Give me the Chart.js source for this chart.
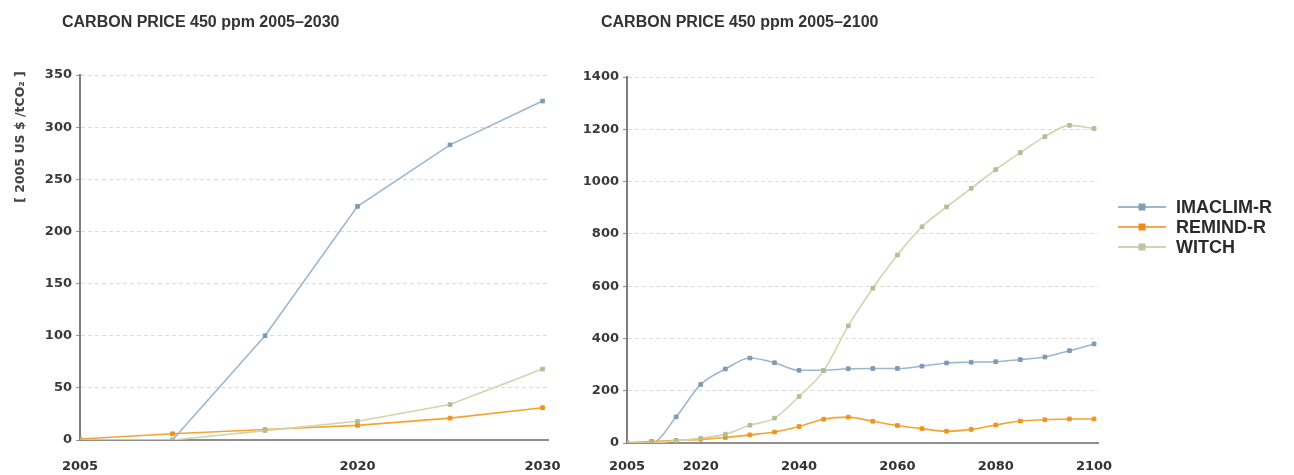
<!DOCTYPE html>
<html>
<head>
<meta charset="utf-8">
<script src="https://cdn.jsdelivr.net/npm/chart.js@4.4.1/dist/chart.umd.min.js"></script>
<style>
  html, body { margin: 0; padding: 0; background: #ffffff; width: 1294px; height: 475px; overflow: hidden; }
  #leftBox  { position: absolute; left: 0;     top: 0; width: 580px; height: 475px; }
  #rightBox { position: absolute; left: 560px; top: 0; width: 734px; height: 475px; }
  canvas { display: block; }
</style>
</head>
<body>
<div id="leftBox"><canvas id="nearTerm" width="580" height="475"></canvas></div>
<div id="rightBox"><canvas id="longTerm" width="734" height="475"></canvas></div>
<script>
// Carbon price paths, 450 ppm stabilisation, in 2005 US$ per tonne CO2
const years   = [2005, 2010, 2015, 2020, 2025, 2030, 2035, 2040, 2045, 2050,
                 2055, 2060, 2065, 2070, 2075, 2080, 2085, 2090, 2095, 2100];
const imaclim = [0, 0, 100, 224, 283, 325, 307, 278, 278, 284,
                 285, 285, 294, 306, 309, 311, 319, 329, 353, 379];
const remind  = [1, 6, 10, 14, 21, 31, 42, 63, 91, 99,
                 83, 67, 55, 45, 52, 69, 84, 89, 92, 92];
const witch   = [0, 0, 9, 18, 34, 68, 95, 178, 277, 448,
                 592, 719, 827, 903, 974, 1046, 1111, 1172, 1215, 1203];

const modelNames = ['IMACLIM-R', 'REMIND-R', 'WITCH'];

const nearTermEnd   = 2030;
const nearXTicks    = [2005, 2020, 2030];
const nearYTicks    = [0, 50, 100, 150, 200, 250, 300, 350];
const longXTicks    = [2005, 2020, 2040, 2060, 2080, 2100];
const longYTicks    = [0, 200, 400, 600, 800, 1000, 1200, 1400];

const titleNear = 'CARBON PRICE 450 ppm 2005\u20132030';
const titleLong = 'CARBON PRICE 450 ppm 2005\u20132100';
const unitLabel = '[ 2005 US $ /tCO\u2082 ]';

const palette = [
  { line: '#9db7cf', point: '#7f9ab3', legend: '#7f9fbd' },
  { line: '#f5a431', point: '#f0931f', legend: '#f28a1a' },
  { line: '#cfd6ae', point: '#b4bd98', legend: '#bcc6a3' }
];

const tickFont = { family: 'DejaVu Sans', size: 13, weight: 'bold' };

function points(values, lastYear) {
  const out = [];
  years.forEach((y, i) => { if (y <= lastYear) out.push({ x: y, y: values[i] }); });
  return out;
}

function buildDatasets(lastYear, smooth) {
  return [imaclim, remind, witch].map((vals, i) => ({
    label: modelNames[i],
    data: points(vals, lastYear),
    borderColor: palette[i].line,
    backgroundColor: palette[i].point,
    borderWidth: 1.6,
    pointStyle: 'rect',
    pointRadius: 2.6,
    pointBorderWidth: 1,
    pointBackgroundColor: palette[i].point,
    pointBorderColor: palette[i].point,
    cubicInterpolationMode: smooth ? 'monotone' : 'default',
    tension: 0,
    fill: false,
    order: 3 - i
  }));
}

// Title text and rotated unit label drawn above/left of the plot
function headerPlugin(text, x, withUnit) {
  return {
    id: 'header',
    afterDraw(chart) {
      const ctx = chart.ctx;
      ctx.save();
      ctx.fillStyle = '#333333';
      ctx.font = 'bold 16px "Liberation Sans"';
      ctx.textBaseline = 'middle';
      ctx.textAlign = 'left';
      ctx.fillText(text, x, 23);
      if (withUnit) {
        ctx.translate(21, 137);
        ctx.rotate(-Math.PI / 2);
        ctx.textAlign = 'center';
        ctx.font = 'bold 12.5px "DejaVu Sans"';
        ctx.fillStyle = '#444444';
        ctx.fillText(unitLabel, 0, 0);
      }
      ctx.restore();
    }
  };
}

// Series key beside the long-term panel
const keyPlugin = {
  id: 'seriesKey',
  afterDraw(chart) {
    const ctx = chart.ctx;
    const x0 = 1118 - 560, lineLen = 48, rowGap = 20, yTop = 207;
    ctx.save();
    chart.data.datasets.forEach((ds, i) => {
      const y = yTop + i * rowGap;
      ctx.strokeStyle = palette[i].legend;
      ctx.lineWidth = 1.6;
      ctx.beginPath();
      ctx.moveTo(x0, y);
      ctx.lineTo(x0 + lineLen, y);
      ctx.stroke();
      ctx.fillStyle = palette[i].legend;
      ctx.fillRect(x0 + lineLen / 2 - 3.5, y - 3.5, 7, 7);
      ctx.fillStyle = '#2b2b2b';
      ctx.font = 'bold 18px "Liberation Sans"';
      ctx.textBaseline = 'middle';
      ctx.textAlign = 'left';
      ctx.fillText(ds.label, x0 + lineLen + 10, y + 1);
    });
    ctx.restore();
  }
};

function makeOptions(cfg) {
  return {
    responsive: false,
    animation: false,
    devicePixelRatio: 1,
    layout: { padding: { left: 0, top: cfg.top, right: cfg.right, bottom: 0 } },
    plugins: { legend: { display: false }, tooltip: { enabled: false } },
    scales: {
      x: {
        type: 'linear',
        min: cfg.xMin,
        max: cfg.xMax,
        afterBuildTicks: s => { s.ticks = cfg.xTicks.map(v => ({ value: v })); },
        afterFit: s => { s.height = cfg.xHeight; },
        grid: { drawOnChartArea: false, drawTicks: false },
        border: { color: '#8f8f8f', width: 2 },
        ticks: { font: tickFont, color: '#333333', padding: cfg.xPad, maxRotation: 0, autoSkip: false,
                 callback: v => String(v) }
      },
      y: {
        min: 0,
        max: cfg.yTicks[cfg.yTicks.length - 1],
        afterBuildTicks: s => { s.ticks = cfg.yTicks.map(v => ({ value: v })); },
        afterFit: s => { s.width = cfg.yWidth; },
        grid: { color: '#dcdcdc', lineWidth: 1, tickLength: 4, tickColor: '#9a9a9a', tickWidth: 1.2 },
        border: { color: '#7e7e7e', width: 2, dash: [4, 3] },
        ticks: { font: tickFont, color: '#3a3a3a', padding: 4, autoSkip: false, callback: v => String(v) }
      }
    }
  };
}

new Chart(document.getElementById('nearTerm'), {
  type: 'line',
  data: { datasets: buildDatasets(nearTermEnd, false) },
  options: makeOptions({ top: 75, right: 30, xMin: 2005, xMax: 2030.3, xTicks: nearXTicks,
                         xHeight: 35, xPad: 19, yTicks: nearYTicks, yWidth: 80 }),
  plugins: [headerPlugin(titleNear, 62, true)]
});

new Chart(document.getElementById('longTerm'), {
  type: 'line',
  data: { datasets: buildDatasets(2100, true) },
  options: makeOptions({ top: 77, right: 196, xMin: 2005, xMax: 2100.8, xTicks: longXTicks,
                         xHeight: 32, xPad: 16, yTicks: longYTicks, yWidth: 67 }),
  plugins: [headerPlugin(titleLong, 601 - 560, false), keyPlugin]
});
</script>
</body>
</html>
